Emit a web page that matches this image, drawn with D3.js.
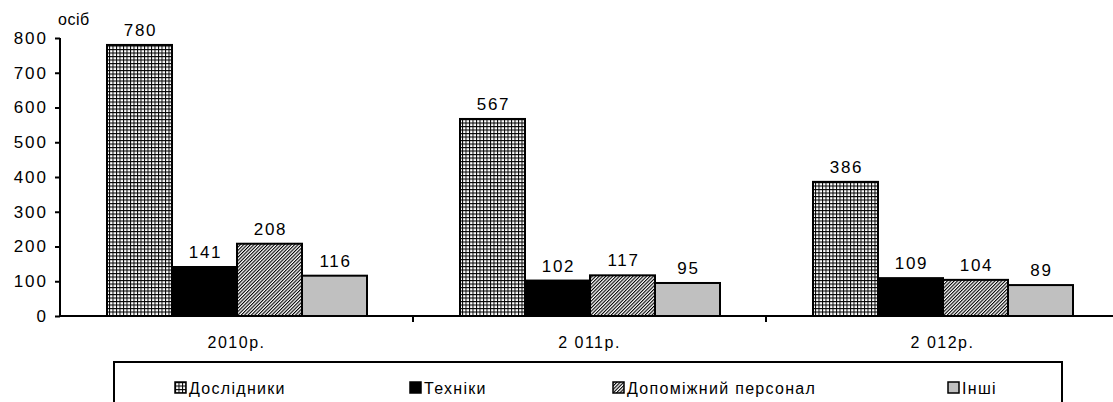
<!DOCTYPE html>
<html>
<head>
<meta charset="utf-8">
<script src="https://cdnjs.cloudflare.com/ajax/libs/d3/7.8.5/d3.min.js"></script>
<style>
body { margin: 0; background: #fff; }
text { font-family: "Liberation Sans", Arial, sans-serif; fill: #000; }
</style>
</head>
<body>
<svg id="chart" width="1113" height="402"></svg>
<script>
var years = ["2010р.", "2 011р.", "2 012р."];
var seriesNames = ["Дослідники", "Техніки", "Допоміжний персонал", "Інші"];
var researchers = [780, 567, 386];
var technicians = [141, 102, 109];
var support = [208, 117, 104];
var others = [116, 95, 89];
var yTicks = [0, 100, 200, 300, 400, 500, 600, 700, 800];

var allSeries = [researchers, technicians, support, others];
var fills = ["url(#grid)", "#000", "url(#diag)", "#c0c0c0"];

var svg = d3.select("#chart");

// patterns
var defs = svg.append("defs");
var grid = defs.append("pattern")
	.attr("id", "grid")
	.attr("patternUnits", "userSpaceOnUse")
	.attr("width", 3.5).attr("height", 3.5);
grid.append("rect").attr("width", 3.5).attr("height", 3.5).style("fill", "#fff");
grid.append("path").attr("d", "M0,0.5H3.5M0.5,0V3.5")
	.style("stroke", "#000").style("stroke-width", 1);

var diag = defs.append("pattern")
	.attr("id", "diag")
	.attr("patternUnits", "userSpaceOnUse")
	.attr("patternTransform", "rotate(45)")
	.attr("width", 2.4).attr("height", 2.4);
diag.append("rect").attr("width", 2.4).attr("height", 2.4).style("fill", "#fff");
diag.append("rect").attr("width", 1.1).attr("height", 2.4).style("fill", "#000");

var plotLeft = 60, plotRight = 1119, plotTop = 38, plotBottom = 316;

var x0 = d3.scaleBand().domain(years).range([plotLeft, plotRight]).paddingInner(0).paddingOuter(0);
var x1 = d3.scaleBand().domain(d3.range(seriesNames.length))
	.range([47, x0.bandwidth() - 46]);
var y = d3.scaleLinear().domain([0, 800]).range([plotBottom, plotTop]);

// y axis
var yAxis = svg.append("g")
	.attr("transform", "translate(" + plotLeft + ",0)")
	.call(d3.axisLeft(y).tickValues(yTicks).tickSize(5).tickPadding(7));
yAxis.select(".domain").attr("d", "M0," + y(800) + "V" + y(0))
	.style("stroke", "#000").style("stroke-width", 2);
yAxis.selectAll(".tick line").style("stroke", "#000").style("stroke-width", 2);
yAxis.selectAll(".tick text")
	.style("font-size", "17px")
	.style("letter-spacing", "2px")
	.style("font-family", "Liberation Sans, Arial");

svg.append("text")
	.attr("x", 58).attr("y", 25)
	.style("font-size", "16px")
	.style("letter-spacing", "0.5px")
	.text("осіб");

// bars
var groups = svg.selectAll("g.year")
	.data(years)
	.enter().append("g")
	.attr("class", "year")
	.attr("transform", function (d) { return "translate(" + x0(d) + ",0)"; });

groups.selectAll("rect")
	.data(function (d, i) { return allSeries.map(function (s, k) { return { k: k, v: s[i] }; }); })
	.enter().append("rect")
	.attr("x", function (d) { return x1(d.k); })
	.attr("y", function (d) { return y(d.v); })
	.attr("width", x1.bandwidth())
	.attr("height", function (d) { return y(0) - y(d.v); })
	.style("fill", function (d) { return fills[d.k]; })
	.style("stroke", "#000")
	.style("stroke-width", 2);

groups.selectAll("text.val")
	.data(function (d, i) { return allSeries.map(function (s, k) { return { k: k, v: s[i] }; }); })
	.enter().append("text")
	.attr("class", "val")
	.attr("x", function (d) { return x1(d.k) + x1.bandwidth() / 2 + 1; })
	.attr("y", function (d) { return y(d.v) - 9; })
	.style("text-anchor", "middle")
	.style("font-size", "17px")
	.style("letter-spacing", "1.7px")
	.text(function (d) { return d.v; });

// x axis
var xAxis = svg.append("g")
	.attr("transform", "translate(0," + plotBottom + ")")
	.call(d3.axisBottom(x0).tickSize(0).tickPadding(21));
xAxis.select(".domain").remove();
xAxis.selectAll(".tick text")
	.style("font-size", "16px")
	.style("letter-spacing", "1.5px")
	.style("font-family", "Liberation Sans, Arial");
svg.append("line")
	.attr("x1", plotLeft).attr("x2", plotRight)
	.attr("y1", plotBottom).attr("y2", plotBottom)
	.style("stroke", "#000").style("stroke-width", 2);
svg.selectAll("line.sep")
	.data(years.slice(1))
	.enter().append("line")
	.attr("class", "sep")
	.attr("x1", function (d) { return x0(d); })
	.attr("x2", function (d) { return x0(d); })
	.attr("y1", plotBottom).attr("y2", plotBottom + 6)
	.style("stroke", "#000").style("stroke-width", 2);

// legend
svg.append("rect")
	.attr("x", 114).attr("y", 362)
	.attr("width", 948).attr("height", 60)
	.style("fill", "#fff")
	.style("stroke", "#000")
	.style("stroke-width", 2);

var legendX = [175, 410, 613, 948];
var legend = svg.selectAll("g.legend")
	.data(seriesNames)
	.enter().append("g")
	.attr("class", "legend")
	.attr("transform", function (d, i) { return "translate(" + legendX[i] + ",382)"; });
legend.append("rect")
	.attr("width", 11).attr("height", 11)
	.style("fill", function (d, i) { return fills[i]; })
	.style("stroke", "#000")
	.style("stroke-width", 1.5);
legend.append("text")
	.attr("x", 14).attr("y", 12)
	.style("font-size", "16px")
	.style("letter-spacing", "1.3px")
	.text(function (d) { return d; });
</script>
</body>
</html>
